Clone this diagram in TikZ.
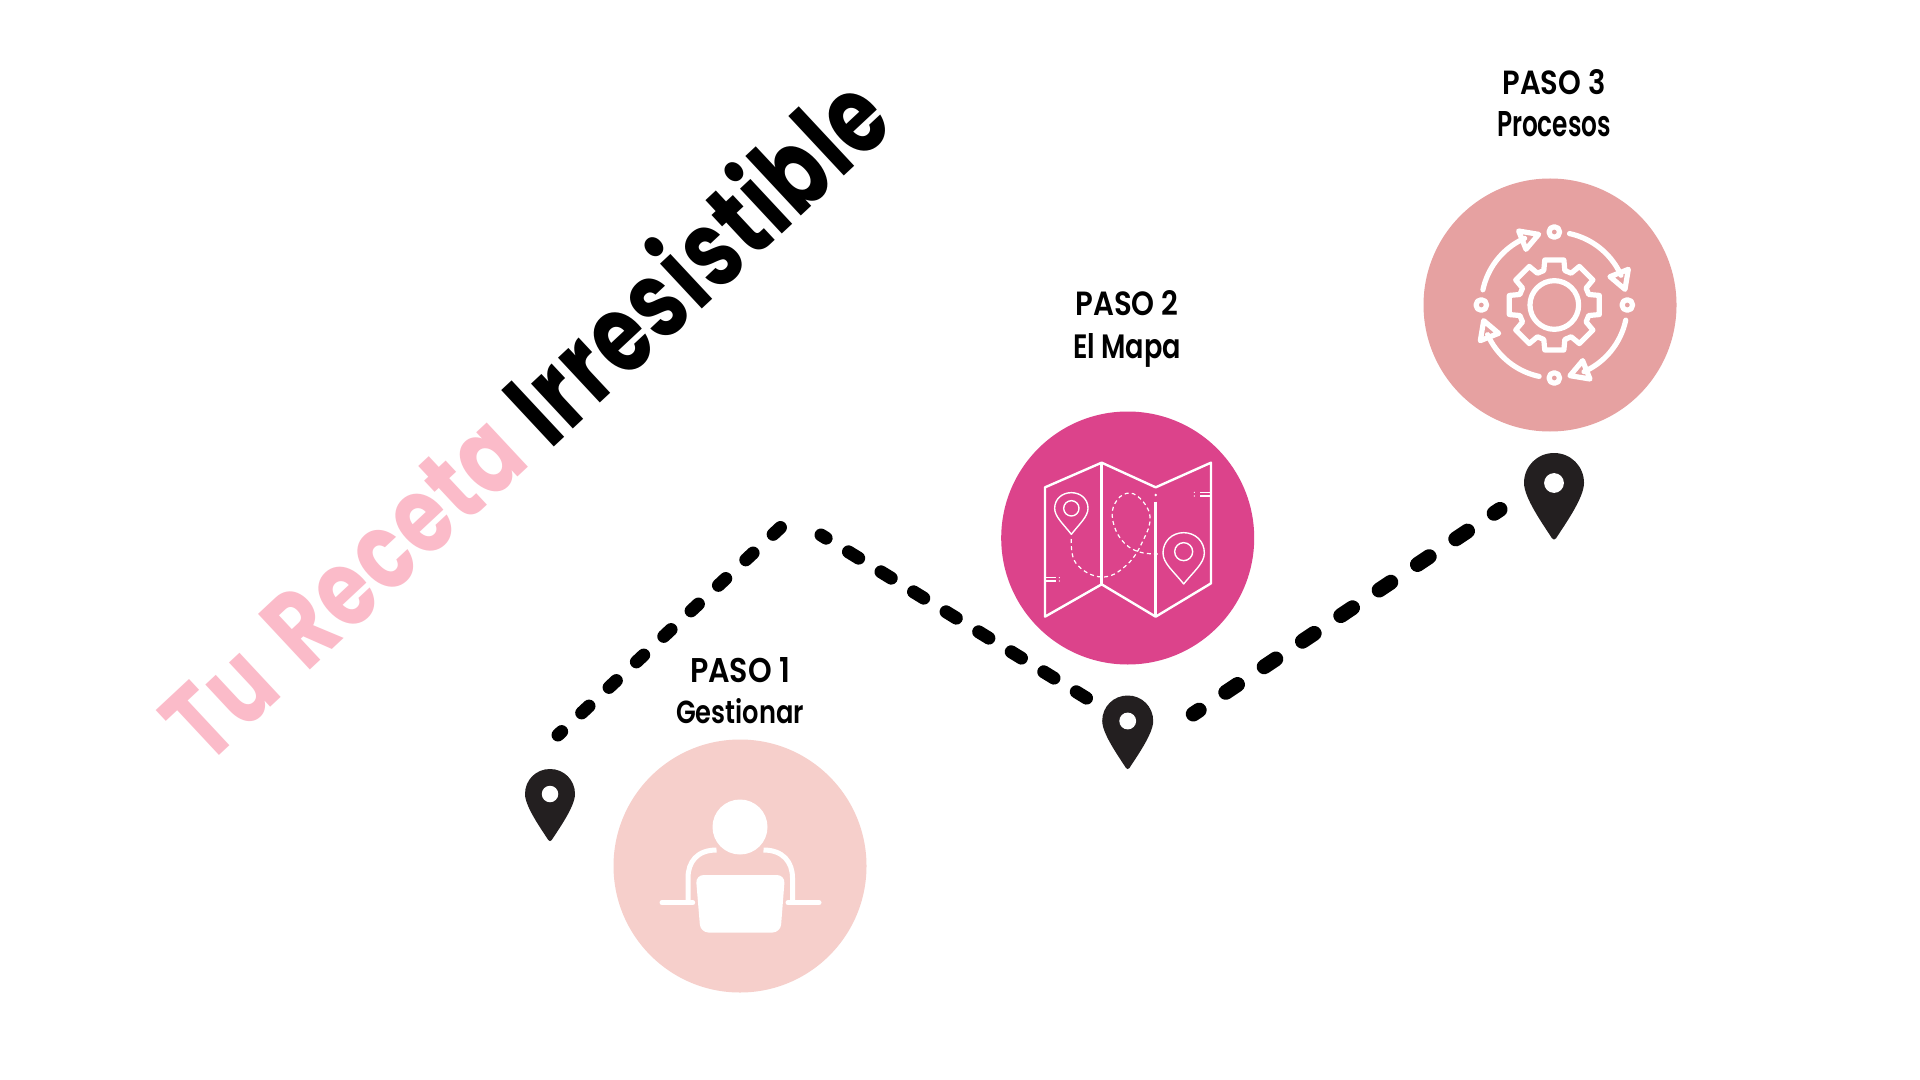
\documentclass[tikz,border=0pt]{standalone}
\usepackage{fontspec}
\usepackage{graphicx}
\newfontfamily\titlefont[UprightFont={* Bold},LetterSpace=2]{Poppins}
\newfontfamily\labelfont[UprightFont={* SemiBold}]{Poppins}
\definecolor{paleC}{HTML}{F6CFCB}
\definecolor{hotC}{HTML}{DC438B}
\definecolor{roseC}{HTML}{E6A1A1}
\definecolor{titleC}{HTML}{FBBBC9}
\definecolor{pinC}{HTML}{231F20}
\newcommand{\lab}[2]{\resizebox{#1pt}{12.5pt}{\labelfont #2}}
\tikzset{
  disc/.style={circle,minimum size=126.5pt,inner sep=0pt,outer sep=0pt},
  steplabel/.style={inner sep=0pt,outer sep=0pt,anchor=base,text=black},
  titlenode/.style={inner sep=0pt,outer sep=0pt,anchor=south west,rotate=43,transform shape},
  trail/.style={line width=6.5pt,line cap=round,black},
  icon/.style={draw=white,line join=round},
  pinmark/.pic={
    \fill[pinC] (-1,0) .. controls (-1,-.56) and (-.56,-1) .. (0,-1)
       .. controls (.56,-1) and (1,-.56) .. (1,0)
       .. controls (1,.5) and (.35,1.4) .. (.07,1.84)
       .. controls (.03,1.9) and (-.03,1.9) .. (-.07,1.84)
       .. controls (-.35,1.4) and (-1,.5) .. (-1,0) -- cycle;
    \fill[white] (0,0) circle[radius=.33];
  }
}
\begin{document}
\begin{tikzpicture}[x=0.5pt,y=-0.5pt]
\useasboundingbox (0,0) rectangle (1920,1080);
\fill[white] (0,0) rectangle (1920,1080);

% title
\node[titlenode] (titleA) at (207,768) {\textcolor{titleC}{\resizebox{223pt}{38pt}{\titlefont Tu\hspace{.12em} Receta}}};
\node[titlenode] (titleB) at (551,451) {\resizebox{237pt}{44pt}{\titlefont Irresistible}};

% discs
\node[disc,fill=paleC] (d1) at (740,866) {};
\node[disc,fill=hotC] (d2) at (1127.7,538) {};
\node[disc,fill=roseC] (d3) at (1550,305) {};

% labels
\node[steplabel] (p1) at (740,682) {\lab{50}{PASO 1}};
\node[steplabel] (g1) at (740,723) {\lab{64}{Gestionar}};
\node[steplabel] (p2) at (1127,316) {\lab{51.5}{PASO 2}};
\node[steplabel] (g2) at (1127,358) {\lab{54}{El Mapa}};
\node[steplabel] (p3) at (1554,95) {\lab{51.5}{PASO 3}};
\node[steplabel] (g3) at (1554,137) {\lab{57}{Procesos}};

% pins
\pic[scale=25] at (550,794) {pinmark};
\pic[scale=25.5] at (1127.7,721) {pinmark};
\pic[scale=30] at (1554,483) {pinmark};

% trails
\coordinate (a1) at (558,735);
\coordinate (a2) at (781,527);
\coordinate (b1) at (821,535);
\coordinate (b2) at (1088,699);
\coordinate (c1) at (1193.3,714);
\coordinate (c2) at (1500,509.4);
\draw[trail,dash pattern=on 5pt off 13.7pt,dash phase=2.5pt] (a1) -- (a2);
\draw[trail,dash pattern=on 6pt off 13.1pt,dash phase=3pt] (b1) -- (b2);
\draw[trail,line width=7.5pt,dash pattern=on 7pt off 16.04pt,dash phase=3.5pt] (c1) -- (c2);

% person icon
\fill[white] (740,827) circle[radius=27.5];
\fill[white,rounded corners=4pt] (695.7,875) -- (785,875) -- (780.5,932.5) -- (700.5,932.5) -- cycle;
\draw[white,line width=2.5pt,line cap=round] (662,902.7) -- (692.7,902.7);
\draw[white,line width=2.5pt,line cap=round] (788,902.7) -- (819,902.7);
\draw[white,line width=2.5pt] (716.5,850) .. controls (697,850) and (688,862) .. (688,878) -- (688,902);
\draw[white,line width=2.5pt] (763.5,850) .. controls (783,850) and (792.5,862) .. (792.5,878) -- (792.5,902);

% map icon
\begin{scope}[shift={(980,400)},scale=1/3]
\draw[icon,line width=1.2pt] (195,262) -- (365,188) -- (527,262) -- (693,188) -- (693,550) -- (527,650) -- (365,553) -- (195,650) -- cycle;
\draw[icon,line width=1.2pt] (365,188) -- (365,553);
\draw[icon,line width=1.2pt] (527,305) -- (527,650);
\fill[white] (527,285) circle[radius=4];
\draw[icon,line width=.7pt] (274,403) .. controls (250,372) and (224,350) .. (224,325) .. controls (224,297) and (246,278) .. (274,278) .. controls (302,278) and (324,297) .. (324,325) .. controls (324,350) and (298,372) .. (274,403) -- cycle;
\draw[icon,line width=.7pt] (274,325) circle[radius=23];
\draw[icon,line width=.7pt] (611,552) .. controls (582,515) and (549,490) .. (549,459) .. controls (549,424) and (576,398) .. (611,398) .. controls (646,398) and (673,424) .. (673,459) .. controls (673,490) and (640,515) .. (611,552) -- cycle;
\draw[icon,line width=.7pt] (611,455) circle[radius=27];
\draw[icon,line width=.6pt,dash pattern=on 2pt off 1.6pt] plot[smooth,tension=.7] coordinates {(274,417) (288,490) (365,531) (440,495) (490,420) (510,350) (480,295) (440,280) (405,310) (398,360) (425,420) (475,455) (540,462)};
\draw[icon,line width=.6pt] (197,533) -- (228,533) (197,543) -- (228,543) (660,277) -- (690,277) (660,288) -- (690,288);
\fill[white] (238,533) circle[radius=2] (238,543) circle[radius=2] (643,277) circle[radius=2] (643,288) circle[radius=2];
\end{scope}

% gear icon
\begin{scope}[shift={(1554.3,305)},scale=1/3]
\draw[icon,line width=2.6pt] (0,0) circle[radius=73];
\draw[icon,line width=2.6pt,line join=round] (-17:108)
  \foreach \a in {0,45,...,315}{ -- (\a-17:108) -- (\a-12:138) -- (\a+12:138) -- (\a+17:108) } -- cycle;
\foreach \r in {0,90,180,270}{
  \begin{scope}[rotate=-\r]
    \draw[icon,line width=2.6pt] (0,-219) circle[radius=16];
    \draw[icon,line width=2.6pt,line cap=round] plot[domain=-78:-24,samples=24] (\x:219);
    \draw[icon,line width=2.6pt] (222,-107) -- (167,-85) -- (212,-47) -- cycle;
  \end{scope}
}
\end{scope}
\end{tikzpicture}
\end{document}
